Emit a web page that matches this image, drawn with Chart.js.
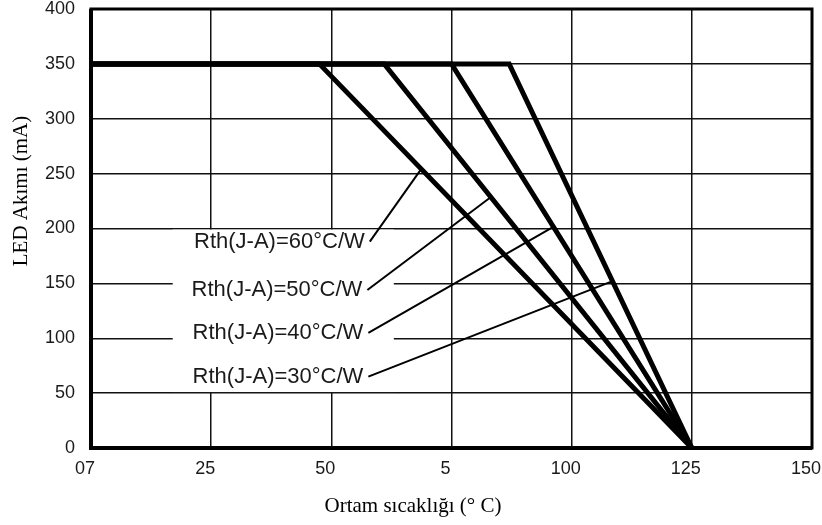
<!DOCTYPE html>
<html>
<head>
<meta charset="utf-8">
<script src="https://cdn.jsdelivr.net/npm/chart.js@4/dist/chart.umd.min.js"></script>
<style>
  html, body { margin: 0; padding: 0; background: #fff; }
  #wrap { width: 822px; height: 525px; }
</style>
</head>
<body>
<div id="wrap"><canvas id="deratingChart" width="822" height="525"></canvas></div>
<script>
// tick labels as printed on the original (typos kept)
const xTickLabels = ["07", "25", "50", "5", "100", "125", "150"];
const xTickValues = [0, 25, 50, 75, 100, 125, 150];

const seriesNames = ["Rth(J-A)=60°C/W", "Rth(J-A)=50°C/W", "Rth(J-A)=40°C/W", "Rth(J-A)=30°C/W"];

// derating curves: flat at 350 mA, then straight down to 0 at 125 °C
const rth60 = [{ x: 0, y: 350 }, { x: 47.5, y: 350 }, { x: 125, y: 0 }];
const rth50 = [{ x: 0, y: 350 }, { x: 61, y: 350 }, { x: 125, y: 0 }];
const rth40 = [{ x: 0, y: 350 }, { x: 75, y: 350 }, { x: 125, y: 0 }];
const rth30 = [{ x: 0, y: 350 }, { x: 87, y: 350 }, { x: 125, y: 0 }];

// leader lines from each label to its curve
const leader60 = [{ x: 58, y: 188 }, { x: 68.5, y: 253 }];
const leader50 = [{ x: 57.5, y: 144 }, { x: 83, y: 228 }];
const leader40 = [{ x: 57.7, y: 105 }, { x: 96, y: 201 }];
const leader30 = [{ x: 57.7, y: 65 }, { x: 108.5, y: 152 }];

const curves = [rth60, rth50, rth40, rth30];
const leaders = [leader60, leader50, leader40, leader30];

// white area behind the labels that hides the grid
const labelBox = { xMin: 17, xMax: 63, yMin: 51, yMax: 199 };

const labelBoxPlugin = {
  id: "labelBox",
  beforeDatasetsDraw(chart) {
    const { ctx, scales } = chart;
    const x1 = scales.x.getPixelForValue(labelBox.xMin);
    const x2 = scales.x.getPixelForValue(labelBox.xMax);
    const y1 = scales.y.getPixelForValue(labelBox.yMax);
    const y2 = scales.y.getPixelForValue(labelBox.yMin);
    ctx.save();
    ctx.fillStyle = "#fff";
    ctx.fillRect(x1, y1, x2 - x1, y2 - y1);
    ctx.restore();
  }
};

const annotationPlugin = {
  id: "annotations",
  afterDraw(chart) {
    const { ctx, scales, chartArea } = chart;
    ctx.save();

    // frame
    ctx.strokeStyle = "#000";
    ctx.lineWidth = 3;
    ctx.strokeRect(chartArea.left, chartArea.top, chartArea.right - chartArea.left, chartArea.bottom - chartArea.top);
    ctx.lineWidth = 4;
    ctx.beginPath();
    ctx.moveTo(chartArea.left, chartArea.top);
    ctx.lineTo(chartArea.left, chartArea.bottom);
    ctx.lineTo(chartArea.right, chartArea.bottom);
    ctx.stroke();

    // curve labels
    ctx.fillStyle = "#1a1a1a";
    ctx.font = "22px 'Liberation Sans', Arial, sans-serif";
    ctx.textAlign = "right";
    ctx.textBaseline = "middle";
    leaders.forEach((leader, i) => {
      const px = scales.x.getPixelForValue(leader[0].x);
      const py = scales.y.getPixelForValue(leader[0].y);
      ctx.fillText(seriesNames[i], px - 5, py);
    });

    // axis titles
    ctx.fillStyle = "#000";
    ctx.font = "21px 'Liberation Serif', 'Times New Roman', serif";
    ctx.textAlign = "center";
    ctx.fillText("Ortam sıcaklığı (° C)", 413, 506);
    ctx.translate(21, 191);
    ctx.rotate(-Math.PI / 2);
    ctx.fillText("LED Akımı (mA)", 0, 0);

    ctx.restore();
  }
};

const datasets = curves.map((data, i) => ({
  label: seriesNames[i],
  data,
  borderColor: "#000",
  borderWidth: 5,
  borderJoinStyle: "miter",
  pointRadius: 0,
  tension: 0
})).concat(leaders.map((data) => ({
  label: "",
  data,
  borderColor: "#000",
  borderWidth: 2,
  pointRadius: 0,
  tension: 0
})));

function noScalePadding(scale) {
  scale.paddingTop = 0;
  scale.paddingBottom = 0;
  scale.paddingLeft = 0;
  scale.paddingRight = 0;
}

new Chart(document.getElementById("deratingChart"), {
  type: "line",
  data: { datasets },
  options: {
    responsive: false,
    animation: false,
    layout: { padding: { top: 9, right: 10, left: 0, bottom: 0 } },
    plugins: {
      legend: { display: false },
      tooltip: { enabled: false }
    },
    scales: {
      x: {
        type: "linear",
        min: 0,
        max: 150,
        afterBuildTicks(scale) {
          scale.ticks = xTickValues.map((value) => ({ value }));
        },
        afterFit(scale) {
          scale.height = 77;
          noScalePadding(scale);
        },
        grid: { color: "#111", lineWidth: 1.5, drawTicks: false },
        border: { display: false },
        ticks: {
          padding: 10,
          labelOffset: -6,
          maxRotation: 0,
          color: "#1a1a1a",
          font: { family: "'Liberation Sans', Arial, sans-serif", size: 18 },
          callback(value) {
            const index = xTickValues.indexOf(value);
            return index >= 0 ? xTickLabels[index] : "";
          }
        }
      },
      y: {
        min: 0,
        max: 400,
        afterFit(scale) {
          scale.width = 91;
          noScalePadding(scale);
        },
        grid: { color: "#111", lineWidth: 1.5, drawTicks: false },
        border: { display: false },
        ticks: {
          stepSize: 50,
          padding: 16,
          color: "#1a1a1a",
          font: { family: "'Liberation Sans', Arial, sans-serif", size: 18 }
        }
      }
    }
  },
  plugins: [labelBoxPlugin, annotationPlugin]
});
</script>
</body>
</html>
